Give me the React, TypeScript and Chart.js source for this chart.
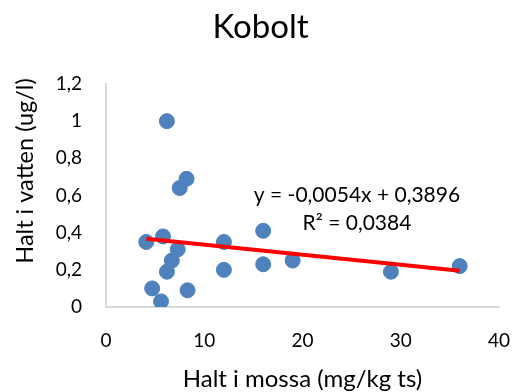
import React, { useEffect, useRef } from "react";
import { Chart, registerables } from "chart.js";

Chart.register(...registerables);

// ---- data ----
const mossa: number[] = [6.2, 8.2, 7.5, 4.1, 5.8, 7.3, 6.7, 6.2, 4.7, 5.6, 8.3, 12, 12, 16, 16, 19, 29, 36];
const vatten: number[] = [1.0, 0.69, 0.64, 0.35, 0.38, 0.31, 0.25, 0.19, 0.1, 0.03, 0.09, 0.35, 0.2, 0.41, 0.23, 0.25, 0.19, 0.22];
const trendSlope = -0.0054;
const trendIntercept = 0.3896;
const equationLines: string[] = ["y = -0,0054x + 0,3896", "R² = 0,0384"];
const chartTitle = "Kobolt";
const xTitle = "Halt i mossa (mg/kg ts)";
const yTitle = "Halt i vatten (ug/l)";

const FONT = "Lato, Calibri, 'Open Sans', sans-serif";

const fmt = (v: number) => String(Number(Number(v).toFixed(1))).replace(".", ",");

export default function App() {
  const ref = useRef<HTMLCanvasElement | null>(null);

  useEffect(() => {
    if (!ref.current) return;
    const pts = mossa.map((x, i) => ({ x, y: vatten[i] }));
    const xMin = Math.min(...mossa);
    const xMax = Math.max(...mossa);
    const trend = [
      { x: xMin, y: trendSlope * xMin + trendIntercept },
      { x: xMax, y: trendSlope * xMax + trendIntercept },
    ];

    const textPlugin = {
      id: "texts",
      afterDraw(chart: any) {
        const ctx = chart.ctx;
        const ca = chart.chartArea;
        ctx.save();
        ctx.fillStyle = "#000";
        ctx.textAlign = "center";
        ctx.textBaseline = "middle";
        // chart title
        ctx.font = `33px ${FONT}`;
        ctx.fillText(chartTitle, 260.5, 27);
        // y axis title
        ctx.font = `23.5px ${FONT}`;
        ctx.save();
        ctx.translate(25, 171);
        ctx.rotate(-Math.PI / 2);
        ctx.fillText(yTitle, 0, 0);
        ctx.restore();
        // x axis title
        ctx.font = `24px ${FONT}`;
        ctx.fillText(xTitle, (ca.left + ca.right) / 2, 379);
        // equation
        ctx.font = `21px ${FONT}`;
        ctx.fillText(equationLines[0], 357, 195);
        ctx.fillText(equationLines[1], 357, 223);
        ctx.restore();
      },
    };

    const chart = new Chart(ref.current, {
      type: "scatter",
      data: {
        datasets: [
          {
            type: "line",
            data: trend,
            borderColor: "#FF0000",
            borderWidth: 4,
            pointRadius: 0,
            fill: false,
            order: 0,
          } as any,
          {
            data: pts,
            backgroundColor: "#4F81BD",
            borderColor: "#4F81BD",
            pointRadius: 7.5,
            pointHoverRadius: 7.5,
            order: 1,
          },
        ],
      },
      options: {
        responsive: false,
        animation: false,
        layout: { padding: { left: 0, right: 15, top: 84, bottom: 0 } },
        plugins: {
          legend: { display: false },
          tooltip: { enabled: false },
          title: { display: false },
        },
        scales: {
          x: {
            type: "linear",
            min: 0,
            max: 40,
            ticks: {
              stepSize: 10,
              color: "#000",
              font: { family: FONT, size: 19 },
              padding: 22,
              maxRotation: 0,
            },
            grid: { display: false, drawTicks: false },
            border: { display: true, color: "#D9D9D9", width: 2 },
            afterFit: (s: any) => {
              s.height = 85;
              s.paddingLeft = 0;
              s.paddingRight = 0;
            },
          },
          y: {
            type: "linear",
            min: 0,
            max: 1.2,
            ticks: {
              stepSize: 0.2,
              color: "#000",
              font: { family: FONT, size: 19 },
              padding: 24,
              callback: (v: any) => fmt(v),
            },
            grid: { display: false, drawTicks: false },
            border: { display: true, color: "#D9D9D9", width: 2 },
            afterFit: (s: any) => {
              s.width = 106;
              s.paddingTop = 0;
              s.paddingBottom = 0;
            },
          },
        },
      },
      plugins: [textPlugin],
    });
    return () => chart.destroy();
  }, []);

  return (
    <div style={{ position: "fixed", left: 0, top: 0, width: 514, height: 392, background: "#fff" }}>
      <canvas ref={ref} width={514} height={392} style={{ display: "block" }} />
    </div>
  );
}
